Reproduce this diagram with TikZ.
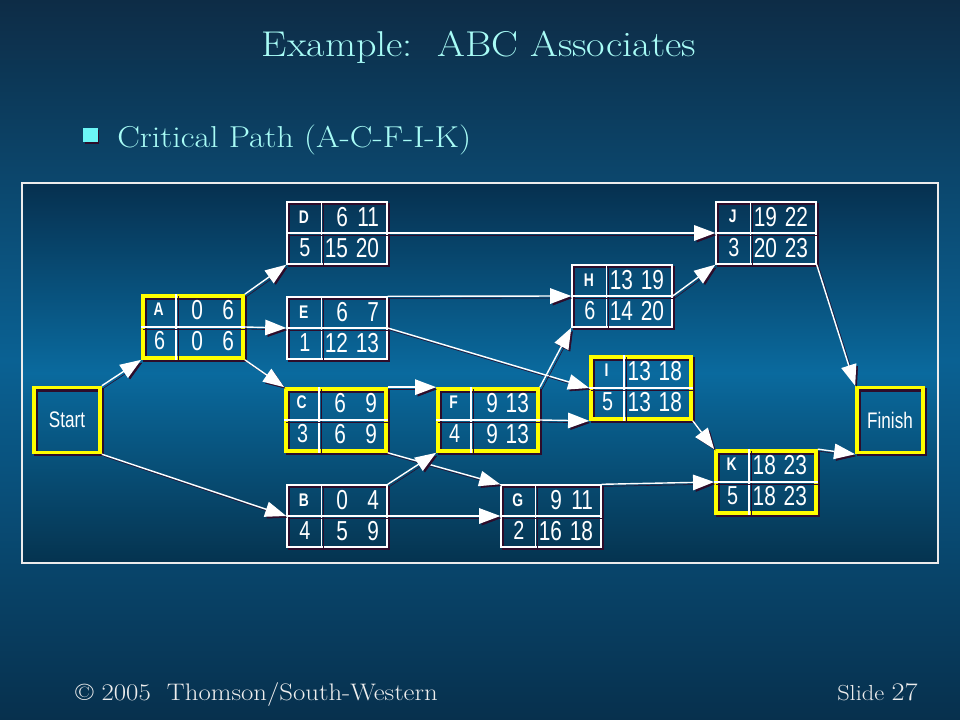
\documentclass[tikz,border=0pt]{standalone}
\usepackage{fontspec}
\usetikzlibrary{arrows.meta}
\newfontfamily\boxfont[FakeStretch=0.76]{Liberation Sans}
\newfontfamily\slidefont[FakeStretch=1.12]{Latin Modern Roman}
\definecolor{shadowc}{HTML}{2E0C2A}
\definecolor{titlec}{HTML}{A8FCF6}
\definecolor{bulletc}{HTML}{6CF6F6}
\definecolor{critc}{HTML}{FFFF00}
\definecolor{footc}{HTML}{EEEEEE}
\definecolor{bgtop}{HTML}{0D2C46}
\definecolor{bgmid}{HTML}{0A6193}
\definecolor{bgbot}{HTML}{07304D}
\definecolor{paneltop}{HTML}{06304F}
\definecolor{panelmid}{HTML}{0A6A9E}
\definecolor{panelbot}{HTML}{05334F}

\begin{document}
\begin{tikzpicture}[x=0.025cm,y=-0.025cm,
    dropline/.style={preaction={draw=shadowc,transform canvas={shift={(1.5pt,-1.5pt)}}}},
    actbox/.style={draw=white,line width=1pt,minimum width=2.5cm,minimum height=1.55cm,inner sep=0pt,dropline},
    critbox/.style={actbox,draw=critc,line width=2.6pt},
    endbox/.style={critbox,minimum width=1.65cm,minimum height=1.62cm,text=white,font=\boxfont\fontsize{16}{17}\selectfont},
    gridline/.style={draw=white,line width=1pt,dropline},
    arr/.style={draw=white,line width=1pt,-{Triangle[length=15pt,width=11pt]},
      preaction={draw=shadowc,-{Triangle[length=15pt,width=11pt]},transform canvas={shift={(1.5pt,-1.5pt)}}}},
    lettxt/.style={text=white,inner sep=0pt,font=\boxfont\bfseries\fontsize{13}{14}\selectfont},
    durtxt/.style={text=white,inner sep=0pt,font=\boxfont\fontsize{18.5}{19}\selectfont},
    numtxt/.style={text=white,inner sep=0pt,anchor=east,font=\boxfont\fontsize{19.5}{20}\selectfont}]
    \pgfmathsetmacro{\leftcol}{35}
    \pgfmathsetmacro{\rowtop}{15.5}
    \pgfmathsetmacro{\rowbot}{46.5}
    \useasboundingbox (0,0) rectangle (960,720);
    % background and panel
    \shade[top color=bgtop,bottom color=bgbot,middle color=bgmid] (0,0) rectangle (960,720);
    \shadedraw[draw=white!85!gray,line width=0.8pt,top color=paneltop,bottom color=panelbot,middle color=panelmid] (22,183) rectangle (938,563);
    % heading
    \node[anchor=base,text=titlec,inner sep=0pt,font=\slidefont\fontsize{25.5}{30}\selectfont] (title) at (479,57) {Example:\ \ ABC Associates};
    \node[fill=bulletc,minimum size=0.35cm,inner sep=0pt,preaction={fill=shadowc,transform canvas={shift={(1.3pt,-1.3pt)}}}] (bul) at (90.5,135) {};
    \node[anchor=base west,text=titlec,inner sep=0pt,font=\slidefont\fontsize{21.5}{24}\selectfont] (crit) at (117,148) {Critical Path (A-C-F-I-K)};
    % activity boxes
    \foreach \nm/\px/\py/\sty/\du/\es/\ef/\ls/\lf in {
        A/193/327/critbox/6/0/6/0/6,
        B/337/516/actbox/4/0/4/5/9,
        C/336/420/critbox/3/6/9/6/9,
        D/337/233/actbox/5/6/11/15/20,
        E/337/328/actbox/1/6/7/12/13,
        F/488/420/critbox/4/9/13/9/13,
        G/551/516/actbox/2/9/11/16/18,
        H/622/296/actbox/6/13/19/14/20,
        I/641/388/critbox/5/13/18/13/18,
        J/766/233/actbox/3/19/22/20/23,
        K/766/482/critbox/5/18/23/18/23}
    {
        \node[\sty] (\nm) at (\px,\py) {};
        \draw[gridline] ([shift={(\leftcol,0)}]\nm.north west) -- ([shift={(\leftcol,0)}]\nm.south west);
        \draw[gridline] (\nm.west) -- (\nm.east);
        \node[lettxt] (\nm-n) at ([shift={(\leftcol/2,\rowtop)}]\nm.north west) {\nm};
        \node[durtxt] (\nm-d) at ([shift={(\leftcol/2+1,\rowbot)}]\nm.north west) {\du};
        \node[numtxt] (\nm-es) at ([shift={(62,\rowtop)}]\nm.north west) {\es};
        \node[numtxt] (\nm-ef) at ([shift={(93,\rowtop)}]\nm.north west) {\ef};
        \node[numtxt] (\nm-ls) at ([shift={(62,\rowbot)}]\nm.north west) {\ls};
        \node[numtxt] (\nm-lf) at ([shift={(93,\rowbot)}]\nm.north west) {\lf};
    }
    \node[endbox] (Start) at (67,420) {Start};
    \node[endbox] (Finish) at (890,420) {Finish};
    % precedence arrows
    \draw[arr] (Start.north east) -- (A.south west);
    \draw[arr] (Start.south east) -- (B.west);
    \draw[arr] (A.north east) -- (D.south west);
    \draw[arr] (A.east) -- (E.west);
    \draw[arr] (A.south east) -- (C.north west);
    \draw[arr] (D.east) -- (J.west);
    \draw[arr] (E.north east) -- (H.west);
    \draw[arr] (E.east) -- (I.west);
    \draw[arr] (C.north east) -- (F.north west);
    \draw[arr] (C.south east) -- (G.north west);
    \draw[arr] (B.north east) -- (F.south west);
    \draw[arr] (B.east) -- (G.west);
    \draw[arr] (F.north east) -- (H.south west);
    \draw[arr] (F.east) -- (I.south west);
    \draw[arr] (G.north east) -- (K.west);
    \draw[arr] (H.east) -- (J.south west);
    \draw[arr] (I.south east) -- (K.north west);
    \draw[arr] (J.south east) -- (Finish.north west);
    \draw[arr] (K.north east) -- (Finish.south west);
    % footer
    \node[anchor=base west,text=footc,inner sep=0pt,font=\slidefont\fontsize{17}{20}\selectfont] (copy) at (75,700) {\copyright\ 2005\ \ Thomson/South-Western};
    \node[anchor=base east,text=footc,inner sep=0pt,font=\slidefont] (slide) at (918,700) {\fontsize{15.5}{18}\selectfont Slide \fontsize{18}{20}\selectfont 27};
\end{tikzpicture}
\end{document}
